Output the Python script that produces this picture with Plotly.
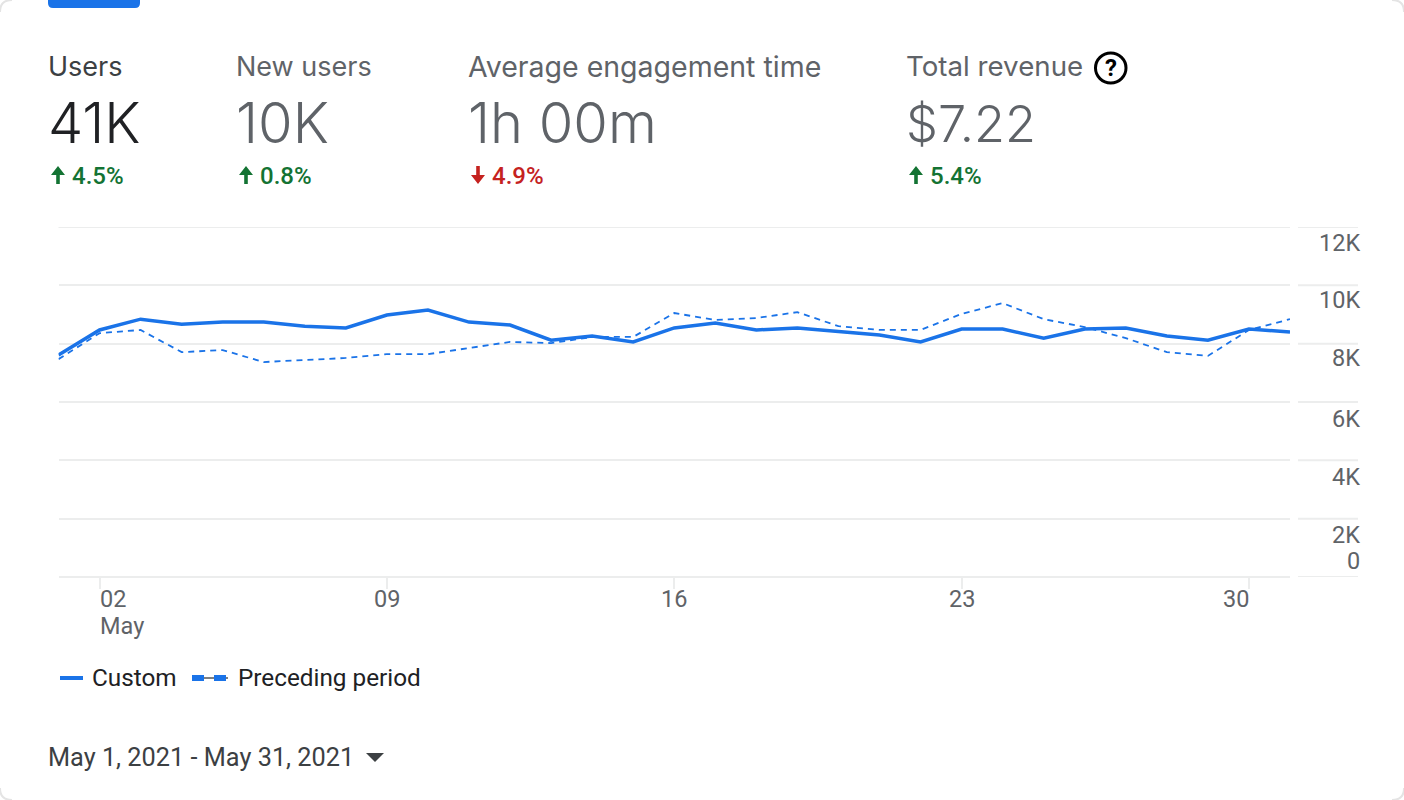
import plotly.graph_objects as go

days = list(range(1, 32))
dates = [f"2021-05-{d:02d}" for d in days]
custom = [7610, 8470, 8840, 8670, 8740, 8740, 8600, 8540, 8980, 9150, 8740, 8640, 8120, 8260, 8060,
          8540, 8710, 8470, 8540, 8430, 8300, 8060, 8500, 8500, 8190, 8500, 8540, 8260, 8120, 8500, 8400]
preceding = [7470, 8360, 8470, 7710, 7780, 7370, 7440, 7510, 7640, 7640, 7850, 8060, 8020, 8230, 8230,
             9050, 8810, 8880, 9080, 8600, 8470, 8470, 9020, 9390, 8840, 8570, 8190, 7710, 7580, 8470, 8840]

y_ticks = [0, 2000, 4000, 6000, 8000, 10000, 12000]
y_labels = ["0", "2K", "4K", "6K", "8K", "10K", "12K"]
x_ticks = ["2021-05-02", "2021-05-09", "2021-05-16", "2021-05-23", "2021-05-30"]
x_labels = ["02", "09", "16", "23", "30"]
month_label = "May"

metric_names = ["Users", "New users", "Average engagement time", "Total revenue"]
metric_values = ["41K", "10K", "1h 00m", "$7.22"]
metric_deltas = ["4.5%", "0.8%", "4.9%", "5.4%"]
metric_up = [True, True, False, True]
series_names = ["Custom", "Preceding period"]
date_range = "May 1, 2021 - May 31, 2021"

W, H = 1404, 800
BLUE = "#1a73e8"
GREEN = "#137333"
RED = "#c5221f"
GREY = "#5f6368"
DARK = "#202124"
GRID = "#eceded"
FONT = "Roboto"
HEAD = "Inter"
PL, PR, PT, PB = 58.5, 1290, 227, 577
COL_X = [48, 236, 468, 906]
NAME_SIZE = [27, 27, 28.5, 27.7]
VALUE_SIZE = [56, 56, 56, 50.5]
Y_LABEL_SHIFT = [16, -16, -17, -17, -14, -15, -16]


def px(x):
    return x / W


def py(y):
    return 1 - y / H


def label(text, x, y, size, color, anchor="left", weight=400, family=FONT):
    return dict(text=text, x=px(x), y=py(y), xref="paper", yref="paper", showarrow=False,
                xanchor=anchor, yanchor="middle", align=anchor, borderpad=0, borderwidth=0,
                font=dict(size=size, color=color, family=family, weight=weight))


def pixel_path(d, **kw):
    return dict(type="path", path=d, xref="paper", yref="paper", layer=kw.pop("layer", "above"), **kw)


def P(*pts):
    return "M" + " L".join(f"{px(a):.6f},{py(b):.6f}" for a, b in pts) + " Z"


fig = go.Figure()
fig.add_trace(go.Scatter(x=dates, y=preceding, name=series_names[1], mode="lines",
                         line=dict(color=BLUE, width=1.8, dash="6px,5px"), hoverinfo="x+y"))
fig.add_trace(go.Scatter(x=dates, y=custom, name=series_names[0], mode="lines",
                         line=dict(color=BLUE, width=3.5), hoverinfo="x+y"))

annotations, shapes = [], []

# metric block
for i, (n, v, d, up) in enumerate(zip(metric_names, metric_values, metric_deltas, metric_up)):
    x0 = COL_X[i]
    annotations.append(label(n, x0, 66, NAME_SIZE[i], "#3c4043" if i == 0 else GREY, family=HEAD))
    annotations.append(label(v, x0, 123, VALUE_SIZE[i], DARK if i == 0 else GREY, weight=300, family=HEAD))
    c = GREEN if up else RED
    annotations.append(label(d, x0 + 24, 176, 24, c, weight=500))
    ax = x0 + 10
    if up:
        pts = [(ax - 7, 175), (ax, 166), (ax + 7, 175), (ax + 1.8, 175), (ax + 1.8, 184), (ax - 1.8, 184), (ax - 1.8, 175)]
    else:
        pts = [(ax - 7, 175), (ax, 184), (ax + 7, 175), (ax + 1.8, 175), (ax + 1.8, 166), (ax - 1.8, 166), (ax - 1.8, 175)]
    shapes.append(pixel_path(P(*pts), fillcolor=c, line=dict(width=0)))

# help icon
shapes.append(dict(type="circle", xref="paper", yref="paper", x0=px(1095.5), x1=px(1126), y0=py(83), y1=py(53),
                   line=dict(color="#000000", width=3), fillcolor="rgba(0,0,0,0)"))
annotations.append(label("?", 1110.5, 68, 24, "#000000", anchor="center", weight=700))

# top button
shapes.append(pixel_path(
    f"M{px(48)},{py(0)} L{px(48)},{py(3)} Q{px(48)},{py(8)} {px(53)},{py(8)} L{px(135)},{py(8)} "
    f"Q{px(140)},{py(8)} {px(140)},{py(3)} L{px(140)},{py(0)} Z",
    fillcolor=BLUE, line=dict(width=0)))

# card corners
for a, b, c_, d_, e, f in [(0, 12, 0, 0, 12, 0), (1392, 0, 1404, 0, 1404, 12),
                           (0, 788, 0, 800, 12, 800), (1392, 800, 1404, 800, 1404, 788)]:
    shapes.append(pixel_path(f"M{px(a)},{py(b)} Q{px(c_)},{py(d_)} {px(e)},{py(f)}",
                             line=dict(color="#e4e4e4", width=2)))

# top grid line inside the plot, and right-hand extensions of grid lines with value labels
shapes.append(dict(type="line", xref="paper", yref="y", x0=px(PL), x1=px(PR), y0=12000, y1=12000,
                   line=dict(color=GRID, width=2)))
for v, t, s in zip(y_ticks, y_labels, Y_LABEL_SHIFT):
    shapes.append(dict(type="line", xref="paper", yref="y", x0=px(1298), x1=px(1358), y0=v, y1=v,
                       line=dict(color=GRID, width=2)))
    annotations.append(dict(text=t, xref="paper", yref="y", x=px(1360), y=v, xanchor="right", yanchor="middle",
                            yshift=s, borderpad=0, borderwidth=0,
                            showarrow=False, font=dict(size=23.5, color=GREY, family=FONT)))

# x labels
for i, (v, t) in enumerate(zip(x_ticks, x_labels)):
    first, last = i == 0, i == len(x_ticks) - 1
    annotations.append(dict(text=t, x=v, y=0, xref="x", yref="y", showarrow=False,
                            xanchor="left" if first else ("right" if last else "center"),
                            align="left", yanchor="top", yshift=-8, borderpad=0, borderwidth=0,
                            font=dict(size=23.5, color=GREY, family=FONT)))
annotations.append(label(month_label, 100, 626, 23.5, GREY))

# legend
shapes.append(dict(type="line", xref="paper", yref="paper", x0=px(60), x1=px(83), y0=py(678), y1=py(678),
                   line=dict(color=BLUE, width=4)))
shapes.append(dict(type="line", xref="paper", yref="paper", x0=px(192), x1=px(228), y0=py(678), y1=py(678),
                   line=dict(color="#000000", width=1)))
for a, b in [(192, 204), (214, 226)]:
    shapes.append(dict(type="rect", xref="paper", yref="paper", x0=px(a), x1=px(b), y0=py(681), y1=py(675),
                       fillcolor=BLUE, line=dict(width=0)))
annotations.append(label(series_names[0], 92, 677, 24.3, DARK))
annotations.append(label(series_names[1], 238, 677, 24.3, DARK))

# date selector
annotations.append(label(date_range, 48, 757, 25.3, "#3c4043"))
shapes.append(pixel_path(P((366, 753), (384, 753), (375, 762)), fillcolor="#3c4043", line=dict(width=0)))

fig.update_layout(
    width=W, height=H, margin=dict(l=0, r=0, t=0, b=0, autoexpand=False),
    paper_bgcolor="white", plot_bgcolor="white", showlegend=False,
    annotations=annotations, shapes=shapes,
    xaxis=dict(domain=[px(PL), px(PR)], range=["2021-05-01", "2021-05-31"], type="date",
               tickvals=x_ticks, ticktext=[""] * len(x_ticks), showgrid=False, zeroline=False,
               ticks="outside", ticklen=11, tickcolor=GRID, tickwidth=2,
               showline=False),
    yaxis=dict(domain=[py(PB), py(PT)], range=[0, 12000], tickvals=y_ticks, showticklabels=False,
               showgrid=True, gridcolor=GRID, gridwidth=2, zeroline=True, zerolinecolor=GRID, zerolinewidth=2,
               ticks="", showline=False),
)

fig.write_html("out.html", config=dict(displayModeBar=False),
               post_script="document.body.style.margin='0';document.body.style.overflow='hidden';")
